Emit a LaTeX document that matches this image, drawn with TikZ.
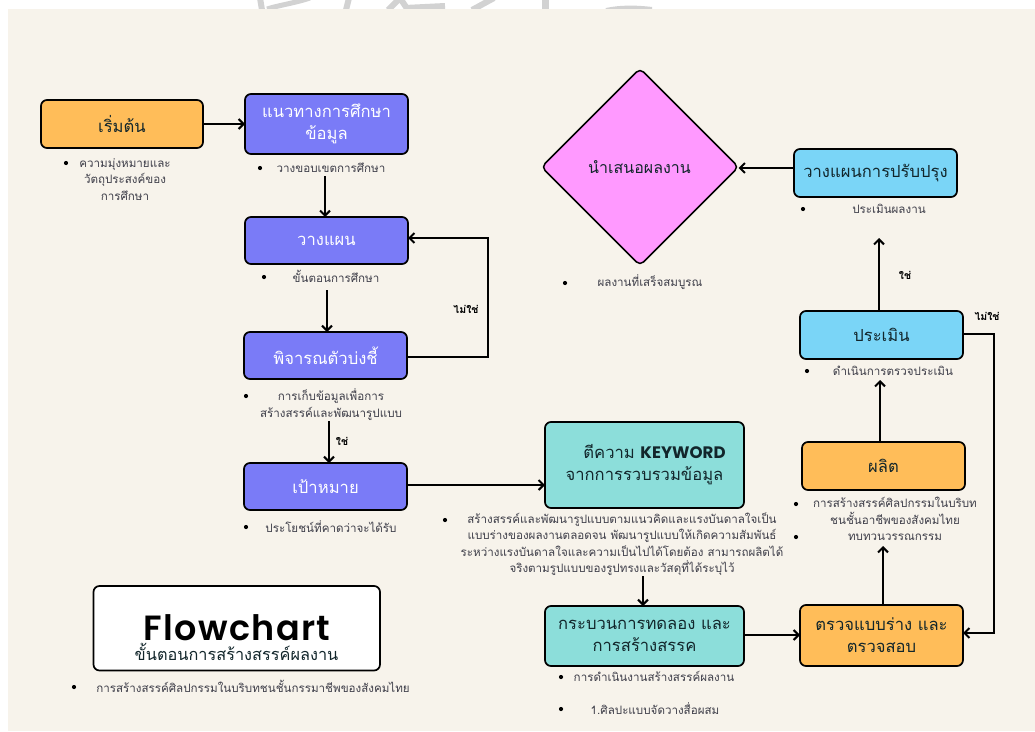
\documentclass[tikz,border=0pt]{standalone}
\usepackage{fontspec}
\usetikzlibrary{arrows.meta,shapes.geometric}
\setmainfont[Script=Thai]{Loma}
\newfontfamily\titlefont[LetterSpace=4]{Poppins SemiBold}
\newfontfamily\kwfont{Poppins Bold}
\definecolor{bg}{HTML}{F7F3EB}
\definecolor{cOrange}{HTML}{FFBD59}
\definecolor{cPurple}{HTML}{7A7BF7}
\definecolor{cTeal}{HTML}{8CDEDA}
\definecolor{cSky}{HTML}{7AD5F7}
\definecolor{cPink}{HTML}{FF99FF}
\definecolor{ink}{HTML}{12262B}
\definecolor{lab}{HTML}{3F3F4A}
\definecolor{wm}{HTML}{D2D2D2}
\tikzset{
 x=1pt,y=-1pt,
 box/.style={draw=black,line width=1.7pt,rounded corners=6pt,inner sep=0pt,outer sep=0pt,align=center,font=\fontsize{16.6}{22}\selectfont,text=ink},
 orangebox/.style={box,fill=cOrange},
 purplebox/.style={box,fill=cPurple,text=white},
 tealbox/.style={box,fill=cTeal},
 skybox/.style={box,fill=cSky},
 lbl/.style={inner sep=0pt,align=center,text=lab,yshift=0.7pt,font=\fontsize{11.6}{16.5}\selectfont},
 dot/.style={circle,fill=black,inner sep=0pt,minimum size=4.2pt},
 yn/.style={inner sep=0pt,text=black,font=\fontsize{10.5}{12}\selectfont\bfseries},
 conn/.style={draw=black,line width=2pt,-{Straight Barb[length=5pt,width=10pt,line width=2pt]}},
}
\newcommand{\bx}[7]{\node[#1,minimum width=#4-#2,minimum height=#5-#3] (#6) at ({(#2+#4)/2},{(#3+#5)/2}) {#7};}
\begin{document}
\begin{tikzpicture}
\useasboundingbox (0,0) rectangle (1035,731);
\fill[white] (0,0) rectangle (1035,731);
% cut-off watermark above the page
\begin{scope}
\clip (0,0) rectangle (1035,9);
\draw[wm,line width=6pt] (260,-2) -- (262,10);
\draw[wm,line width=5pt] (267,9) .. controls (280,5) and (295,3) .. (310,-2);
\draw[wm,line width=6pt] (349,-2) -- (346,10);
\draw[wm,line width=6pt] (388,10) -- (400,-2) -- (408,10);
\draw[wm,line width=6pt] (405,8) -- (445,6);
\draw[wm,line width=6pt] (472,10) -- (494,-2);
\draw[wm,line width=7pt] (545,-2) -- (545,10);
\draw[wm,line width=4pt] (606,10) .. controls (620,7) and (635,7) .. (652,9);
\end{scope}
\fill[bg] (8,9) rectangle (1035,731);
% boxes
\bx{orangebox}{41}{100}{203}{148}{start}{เริ่มต้น}
\bx{purplebox}{245}{94}{408}{154}{guide}{แนวทางการศึกษา\\ข้อมูล}
\bx{purplebox}{245}{217}{408}{264}{plan}{วางแผน}
\bx{purplebox}{244}{332}{407}{379}{indicator}{พิจารณตัวบ่งชี้}
\bx{purplebox}{244}{463}{407}{510}{goal}{เป้าหมาย}
\bx{tealbox}{545}{422}{744}{508}{keyword}{\hspace*{20pt}ตีความ {\kwfont KEYWORD}\\จากการรวบรวมข้อมูล}
\bx{tealbox}{545}{606}{744}{666}{process}{กระบวนการทดลอง และ\\การสร้างสรรค}
\bx{orangebox}{800}{605}{963}{666}{check}{ตรวจแบบร่าง และ\\ตรวจสอบ}
\bx{orangebox}{802}{442}{965}{490}{produce}{ผลิต}
\bx{skybox}{800}{311}{963}{359}{eval}{ประเมิน}
\bx{skybox}{794}{149}{957}{197}{improve}{วางแผนการปรับปรุง}
\node[draw=black,line width=1.5pt,fill=cPink,diamond,aspect=1,rounded corners=5pt,minimum width=197pt,minimum height=197pt,inner sep=0pt,outer sep=0pt] (present) at (640,167) {};
\node[inner sep=0pt,text=ink,font=\fontsize{16}{18}\selectfont] (presentT) at (639.5,167) {นำเสนอผลงาน};
\bx{box,fill=white}{93.5}{586}{380}{670.5}{titlebox}{}
\node[inner sep=0pt,text=black,font=\titlefont\fontsize{35}{38}\selectfont] (flow) at (237,628) {Flowchart};
\node[inner sep=0pt,text=ink,font=\fontsize{16.3}{18}\selectfont] (flowsub) at (236.5,652) {ขั้นตอนการสร้างสรรค์ผลงาน};
% labels
\node[lbl] (l1) at (125,180) {ความมุ่งหมายและ\\วัตถุประสงค์ของ\\การศึกษา}; \node[dot] (d1) at (66,163) {};
\node[lbl] (l2) at (331,168) {วางขอบเขตการศึกษา}; \node[dot] (d2) at (260,168) {};
\node[lbl] (l3) at (336,277) {ขั้นตอนการศึกษา}; \node[dot] (d3) at (264,277) {};
\node[lbl] (l4) at (331,405) {การเก็บข้อมูลเพื่อการ\\สร้างสรรค์และพัฒนารูปแบบ}; \node[dot] (d4) at (246,396) {};
\node[lbl] (l5) at (331,527) {ประโยชน์ที่คาดว่าจะได้รับ}; \node[dot] (d5) at (246,527) {};
\node[lbl] (l6) at (253,687) {การสร้างสรรค์ศิลปกรรมในบริบทชนชั้นกรรมาชีพของสังคมไทย}; \node[dot] (d6) at (74,687) {};
\node[lbl] (l7) at (622,545) {สร้างสรรค์และพัฒนารูปแบบตามแนวคิดและแรงบันดาลใจเป็น\\แบบร่างของผลงานตลอดจน พัฒนารูปแบบให้เกิดความสัมพันธ์\\ระหว่างแรงบันดาลใจและความเป็นไปได้โดยต้อง สามารถผลิตได้\\จริงตามรูปแบบของรูปทรงและวัสดุที่ได้ระบุไว้}; \node[dot] (d7) at (445,520) {};
\node[lbl] (l8) at (654,677) {การดำเนินงานสร้างสรรค์ผลงาน}; \node[dot] (d8) at (561,677) {};
\node[lbl] (l9) at (655,709) {1.ศิลปะแบบจัดวางสื่อผสม}; \node[dot] (d9) at (561,709) {};
\node[lbl] (l10) at (895,520) {การสร้างสรรค์ศิลปกรรมในบริบท\\ชนชั้นอาชีพของสังคมไทย\\ทบทวนวรรณกรรม}; \node[dot] (d10) at (796,504) {}; \node[dot] (d11) at (796,537) {};
\node[lbl] (l11) at (893,371) {ดำเนินการตรวจประเมิน}; \node[dot] (d12) at (807,371) {};
\node[lbl] (l12) at (889,210) {ประเมินผลงาน}; \node[dot] (d13) at (803,209) {};
\node[lbl] (l13) at (650,283) {ผลงานที่เสร็จสมบูรณ}; \node[dot] (d14) at (565,283) {};
% yes/no
\node[yn] (n1) at (466,309) {ไม่ใช่};
\node[yn] (y1) at (342,441) {ใช่};
\node[yn] (y2) at (905,275) {ใช่};
\node[yn] (n2) at (987,316) {ไม่ใช่};
% free connector ends
\coordinate (a1) at (325,176);
\coordinate (a2) at (327,290);
\coordinate (a3) at (329,421);
\coordinate (a4) at (643,576);
\coordinate (a5) at (883,546);
\coordinate (a6) at (880,380);
\coordinate (a7) at (879,238);
\coordinate (k1) at (488,357);
\coordinate (k2) at (488,238);
\coordinate (k3) at (994,334);
\coordinate (k4) at (994,633);
\coordinate (r1) at (0,485);
\coordinate (r2) at (0,168);
\coordinate (r3) at (0,635);
\coordinate (r4) at (0,124);
% connectors
\draw[conn] (start.east |- r4) -- (guide.west |- r4);
\draw[conn] (a1) -- (a1 |- plan.north);
\draw[conn] (a2) -- (a2 |- indicator.north);
\draw[conn] (a3) -- (a3 |- goal.north);
\draw[conn] (goal.east |- r1) -- (keyword.west |- r1);
\draw[conn] (a4) -- (a4 |- process.north);
\draw[conn] (process.east |- r3) -- (check.west |- r3);
\draw[conn] (check.north -| a5) -- (a5);
\draw[conn] (produce.north -| a6) -- (a6);
\draw[conn] (eval.north -| a7) -- (a7);
\draw[conn] (improve.west |- r2) -- (present.east |- r2);
\draw[conn] (indicator.east |- k1) -- (k1) -- (k2) -- (plan.east |- k2);
\draw[conn] (eval.east |- k3) -- (k3) -- (k4) -- (check.east |- k4);
\end{tikzpicture}
\end{document}
